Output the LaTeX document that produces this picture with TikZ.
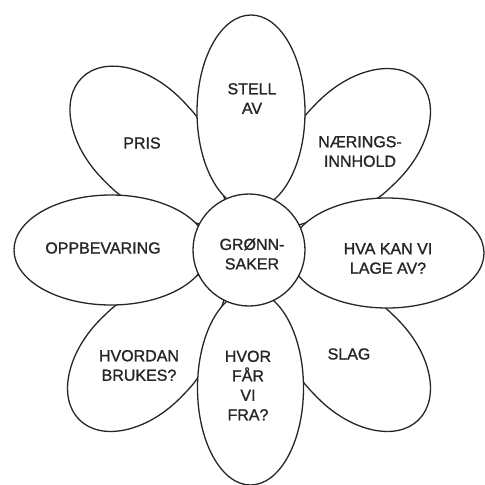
\documentclass[tikz,border=0pt]{standalone}
\usepackage{fontspec}
\setmainfont{Liberation Sans}[BoldFont=Liberation Sans,BoldFeatures={FakeBold=1.2}]
\newcommand\diagpetalpath{(30,-5.75) -- (118,-51.2) .. controls (126,-55.3) and (138,-56) .. (154,-56) arc [start angle=-90, end angle=90, x radius=86, y radius=56] .. controls (138,56) and (126,55.3) .. (118,51.2) -- (30,5.75) -- cycle}
\begin{document}
\begin{tikzpicture}[x=1pt,y=-1pt,
  petal/.style={draw=black!85,line width=1.3pt,fill=white,line join=round},
  lbl/.style={align=center,font=\fontsize{16}{19.5}\selectfont\bfseries,text=black!85,inner sep=0pt}]
\useasboundingbox (0,0) rectangle (485,485);
% diagonal petals (behind)
\draw[petal,shift={(249,250)},rotate=134] \diagpetalpath;
\draw[petal,shift={(249,250)},rotate=45] \diagpetalpath;
\draw[petal,shift={(249,250)},rotate=-45] \diagpetalpath;
\draw[petal,shift={(249,250)},rotate=-135] \diagpetalpath;
% axis petals
\draw[petal] (251,112) ellipse [x radius=54,y radius=97];
\draw[petal] (250.5,388) ellipse [x radius=53,y radius=97];
\draw[petal] (111,250) ellipse [x radius=97,y radius=55];
\draw[petal] (387,253) ellipse [x radius=97,y radius=55];
% centre
\draw[petal] (249,250) circle [radius=56];
% labels
\node[lbl] (stell) at (252,98.5) {STELL\\AV};
\node[lbl] (pris) at (142,143) {PRIS};
\node[lbl] (naer) at (360,151.5) {NÆRINGS-\\INNHOLD};
\node[lbl] (oppb) at (103,248) {OPPBEVARING};
\node[lbl] (gronn) at (252,254) {GRØNN-\\SAKER};
\node[lbl] (hva) at (388,258.5) {HVA KAN VI\\LAGE AV?};
\node[lbl] (hvordan) at (139,365.5) {HVORDAN\\BRUKES?};
\node[lbl] (hvor) at (248,385.5) {HVOR\\FÅR\\VI\\FRA?};
\node[lbl] (slag) at (349,354) {SLAG};
\end{tikzpicture}
\end{document}
